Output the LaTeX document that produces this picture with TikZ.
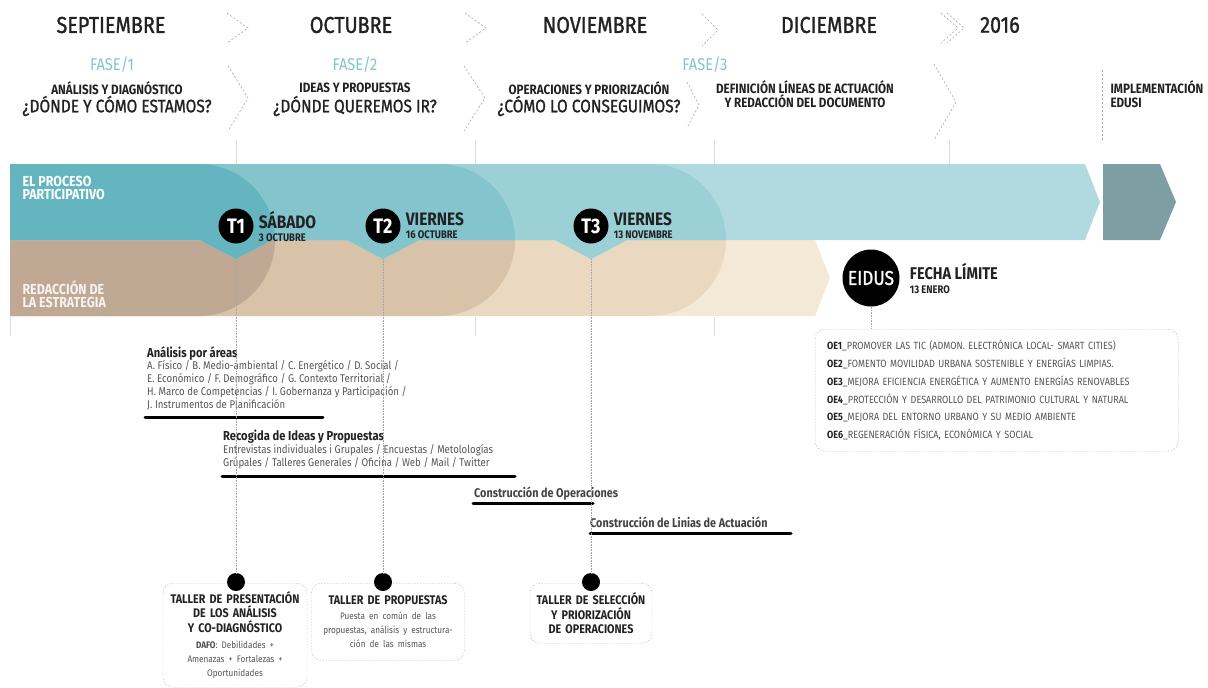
\documentclass[tikz,border=0pt]{standalone}
\usepackage{fontspec}
\setmainfont{Fira Sans}[FakeStretch=0.86]
\newfontfamily\medfont{Fira Sans}[FakeStretch=0.86, FakeBold=1.2]
\usetikzlibrary{positioning}

\definecolor{tealbase}{HTML}{B0DADF}
\definecolor{tealC}{HTML}{9BD0D6}
\definecolor{tealB}{HTML}{84C5CD}
\definecolor{tealA}{HTML}{64B5C0}
\definecolor{beigebase}{HTML}{F4E8D6}
\definecolor{beigeC}{HTML}{EAD9C0}
\definecolor{beigeB}{HTML}{D8C2A8}
\definecolor{beigeA}{HTML}{C0A994}
\definecolor{tealend}{HTML}{7D9FA4}
\definecolor{fasecol}{HTML}{7EC6CC}
\definecolor{ink}{HTML}{222222}
\definecolor{greytxt}{HTML}{555555}

\newcommand{\datefont}{\bfseries\fontsize{11}{11}\selectfont}
\newcommand{\tallersmall}{\mdseries\color{greytxt}\fontsize{9.5}{14}\selectfont}
\newcommand{\headfont}{\bfseries\fontsize{13}{13}\selectfont}

\tikzset{
  month/.style={text=ink, font=\medfont\fontsize{23}{23}\selectfont},
  fase/.style={text=fasecol, font=\fontsize{17}{17}\selectfont},
  subt/.style={text=ink, align=center, font=\bfseries\fontsize{13.5}{14}\selectfont},
  quest/.style={text=ink, font=\medfont\fontsize{18}{18}\selectfont},
  bandlbl/.style={text=white, anchor=west, align=left, font=\bfseries\fontsize{14.5}{13}\selectfont},
  tcirc/.style={circle, fill=black, text=white, minimum size=35pt, inner sep=0pt, font=\bfseries\fontsize{21}{21}\selectfont},
  dayname/.style={text=ink, anchor=west, align=left, inner sep=0pt, font=\bfseries\fontsize{18}{13}\selectfont},
  chev/.style={draw=gray!70, dash pattern=on 2pt off 2pt, line width=0.6pt},
  divider/.style={draw=gray!25, line width=0.6pt},
  dotline/.style={draw=gray!70, densely dotted, line width=0.6pt},
  bar/.style={line width=3pt, line cap=round},
  bodytxt/.style={text=greytxt, anchor=north west, align=left, inner sep=0pt, font=\fontsize{11.2}{12.8}\selectfont},
  dotbox/.style={draw=gray!60, dash pattern=on 1.5pt off 1.5pt, rounded corners=10pt},
  tallerbox/.style={dotbox, align=center, anchor=north, text=ink, inner sep=4pt, font=\bfseries\fontsize{12.5}{14.5}\selectfont},
  blackdot/.style={circle, fill=black, minimum size=18pt, inner sep=0pt}
}

\begin{document}
\begin{tikzpicture}[x=1pt, y=-1pt]
  \useasboundingbox (0,0) rectangle (1208,688);

  % Months
  \node (m1) [month] at (111,25) {SEPTIEMBRE};
  \node (m2) [month] at (351,25) {OCTUBRE};
  \node (m3) [month] at (595,25) {NOVIEMBRE};
  \node (m4) [month] at (829,25) {DICIEMBRE};
  \node (m5) [month] at (1000,25) {2016};

  % Phases
  \node (f1) [fase] at (112,65) {FASE/1};
  \node (f2) [fase] at (355,65) {FASE/2};
  \node (f3) [fase] at (705,65) {FASE/3};
  \node (s1) [subt] at (117,88) {ANÁLISIS Y DIAGNÓSTICO};
  \node (q1) [quest] at (117,106) {¿DÓNDE Y CÓMO ESTAMOS?};
  \node (s2) [subt] at (355,88) {IDEAS Y PROPUESTAS};
  \node (q2) [quest] at (355,106) {¿DÓNDE QUEREMOS IR?};
  \node (s3) [subt] at (589,88) {OPERACIONES Y PRIORIZACIÓN};
  \node (q3) [quest] at (589,106) {¿CÓMO LO CONSEGUIMOS?};
  \node (s4) [subt] at (805,94) {DEFINICIÓN LÍNEAS DE ACTUACIÓN\\Y REDACCIÓN DEL DOCUMENTO};
  \node (s5) [subt, anchor=west, align=left] at (1107,94) {IMPLEMENTACIÓN\\EDUSI};

  % Chevrons
  \draw[chev] (227,13) -- (248,28) -- (227,43);
  \draw[chev] (465,13) -- (486,28) -- (465,43);
  \draw[chev] (702,14) -- (718,30) -- (702,46);
  \draw[chev] (941,13) -- (958,28) -- (941,43);
  \draw[chev] (947,13) -- (964,28) -- (947,43);
  \draw[chev] (228,66) -- (248,98) -- (228,131);
  \draw[chev] (464,66) -- (485,98) -- (464,131);
  \draw[chev] (687,82) -- (699,105) -- (687,128);
  \draw[chev] (934,64) -- (956,102) -- (934,140);
  \draw[chev] (1102,70) -- (1102,140);

  % Dividers
  \draw[divider] (236,140) -- (236,164);
  \draw[divider] (475,140) -- (475,164);
  \draw[divider] (714,140) -- (714,164);
  \draw[divider] (949,140) -- (949,164);
  \draw[divider] (10,317) -- (10,336);
  \draw[divider] (475,317) -- (475,336);
  \draw[divider] (714,317) -- (714,336);

  % Bands
  \begin{scope}
    \clip (10,240) -- (815,240) -- (830,278) -- (815,316) -- (10,316) -- cycle;
    \fill[beigebase] (10,240) rectangle (830,316);
    \fill[beigeC] (10,164) -- (650,164) arc (-90:90:76) -- (10,316) -- cycle;
    \fill[beigeB] (10,164) -- (439,164) arc (-90:90:76) -- (10,316) -- cycle;
    \fill[beigeA] (10,164) -- (199,164) arc (-90:90:76) -- (10,316) -- cycle;
  \end{scope}
  \begin{scope}
    \clip (10,164) -- (1085,164) -- (1100,202) -- (1085,240) -- (627,240) -- (591,259)
      -- (555,240) -- (419,240) -- (383,259) -- (347,240) -- (272,240) -- (236,259)
      -- (200,240) -- (10,240) -- cycle;
    \fill[tealbase] (10,164) rectangle (1100,262);
    \fill[tealC] (10,164) -- (650,164) arc (-90:90:76) -- (10,316) -- cycle;
    \fill[tealB] (10,164) -- (439,164) arc (-90:90:76) -- (10,316) -- cycle;
    \fill[tealA] (10,164) -- (199,164) arc (-90:90:76) -- (10,316) -- cycle;
  \end{scope}
  \fill[tealend] (1103,164) -- (1160,164) -- (1176,202) -- (1160,240) -- (1103,240) -- cycle;

  \node (b1) [bandlbl] at (19,188) {EL PROCESO\\PARTICIPATIVO};
  \node (b2) [bandlbl, text=white!85!beigeA] at (19,294) {REDACCIÓN DE\\LA ESTRATEGIA};

  % Workshops on the timeline
  \node (t1) [tcirc] at (236,226) {T1};
  \node (t2) [tcirc] at (383,226) {T2};
  \node (t3) [tcirc] at (591,226) {T3};
  \node (d1) [dayname, right=5pt of t1] {SÁBADO\\{\datefont 3 OCTUBRE}};
  \node (d2) [dayname, right=5pt of t2] {VIERNES\\{\datefont 16 OCTUBRE}};
  \node (d3) [dayname, right=5pt of t3] {VIERNES\\{\datefont 13 NOVEMBRE}};
  \coordinate (p1) at (236,259);
  \coordinate (p2) at (383,259);
  \coordinate (p3) at (591,259);

  \node (eidus) [tcirc, minimum size=57pt, font=\medfont\fontsize{20}{20}\selectfont] at (871,278) {EIDUS};
  \node (lim) [dayname, right=10pt of eidus, font=\bfseries\fontsize{17}{14}\selectfont] {FECHA LÍMITE\\{\datefont 13 ENERO}};

  % Objectives box
  \node (oe) [dotbox, anchor=north west, align=left, text width=339pt, inner xsep=12pt,
    minimum height=122pt, text=greytxt, font=\fontsize{10.5}{17.8}\selectfont] at (815,329)
    {{\color{ink}\bfseries OE1}\_PROMOVER LAS TIC (ADMON. ELECTRÓNICA LOCAL- SMART CITIES)\\
     {\color{ink}\bfseries OE2}\_FOMENTO MOVILIDAD URBANA SOSTENIBLE Y ENERGÍAS LIMPIAS.\\
     {\color{ink}\bfseries OE3}\_MEJORA EFICIENCIA ENERGÉTICA Y AUMENTO ENERGÍAS RENOVABLES\\
     {\color{ink}\bfseries OE4}\_PROTECCIÓN Y DESARROLLO DEL PATRIMONIO CULTURAL Y NATURAL\\
     {\color{ink}\bfseries OE5}\_MEJORA DEL ENTORNO URBANO Y SU MEDIO AMBIENTE\\
     {\color{ink}\bfseries OE6}\_REGENERACIÓN FÍSICA, ECONÓMICA Y SOCIAL};
  \draw[dotline] (eidus.south) -- (eidus.south |- oe.north);

  % Tasks
  \node (a1) [bodytxt] at (147,346) {{\color{ink}\headfont Análisis por áreas}\\
    A. Físico / B. Medio-ambiental / C. Energético / D. Social /\\
    E. Económico / F. Demográfico / G. Contexto Territorial /\\
    H. Marco de Competencias / I. Gobernanza y Participación /\\
    J. Instrumentos de Planificación};
  \draw[bar] (145,417) -- (323,417);
  \node (a2) [bodytxt] at (223,430) {{\color{ink}\headfont Recogida de Ideas y Propuestas}\\
    Entrevistas individuales i Grupales / Encuestas / Metolologías\\
    Grúpales / Talleres Generales / Oficina / Web / Mail / Twitter};
  \draw[bar] (222,476) -- (515,476);
  \node (a3) [bodytxt, text=ink!85, font=\bfseries\fontsize{12.6}{13}\selectfont] at (474,487) {Construcción de Operaciones};
  \draw[bar] (473,503) -- (593,503);
  \node (a4) [bodytxt, text=ink!85, font=\bfseries\fontsize{12.6}{13}\selectfont] at (590,517) {Construcción de Linias de Actuación};
  \draw[bar] (590,533) -- (791,533);

  % Workshop boxes
  \node (w1) [tallerbox, text width=136pt, minimum height=104pt] at (235,583)
    {TALLER DE PRESENTACIÓN\\DE LOS ANÁLISIS\\Y CO-DIAGNÓSTICO\\[2pt]
     {\tallersmall{\color{ink!80}\bfseries DAFO}: Debilidades +\\Amenazas + Fortalezas +\\Oportunidades}};
  \node (w2) [tallerbox, text width=145pt, minimum height=77pt] at (388,583)
    {TALLER DE PROPUESTAS\\[1pt]
     {\tallersmall Puesta en común de las\\propuestas, análisis y estructura-\\ción de las mismas}};
  \node (w3) [tallerbox, text width=114pt, minimum height=60pt] at (591,583)
    {TALLER DE SELECCIÓN\\Y PRIORIZACIÓN\\DE OPERACIONES};
  \node (k1) [blackdot] at (236,582) {};
  \node (k2) [blackdot] at (383,582) {};
  \node (k3) [blackdot] at (591,582) {};

  % Edges
  \draw[dotline] (p1) -- (k1);
  \draw[dotline] (p2) -- (k2);
  \draw[dotline] (p3) -- (k3);

\end{tikzpicture}
\end{document}
